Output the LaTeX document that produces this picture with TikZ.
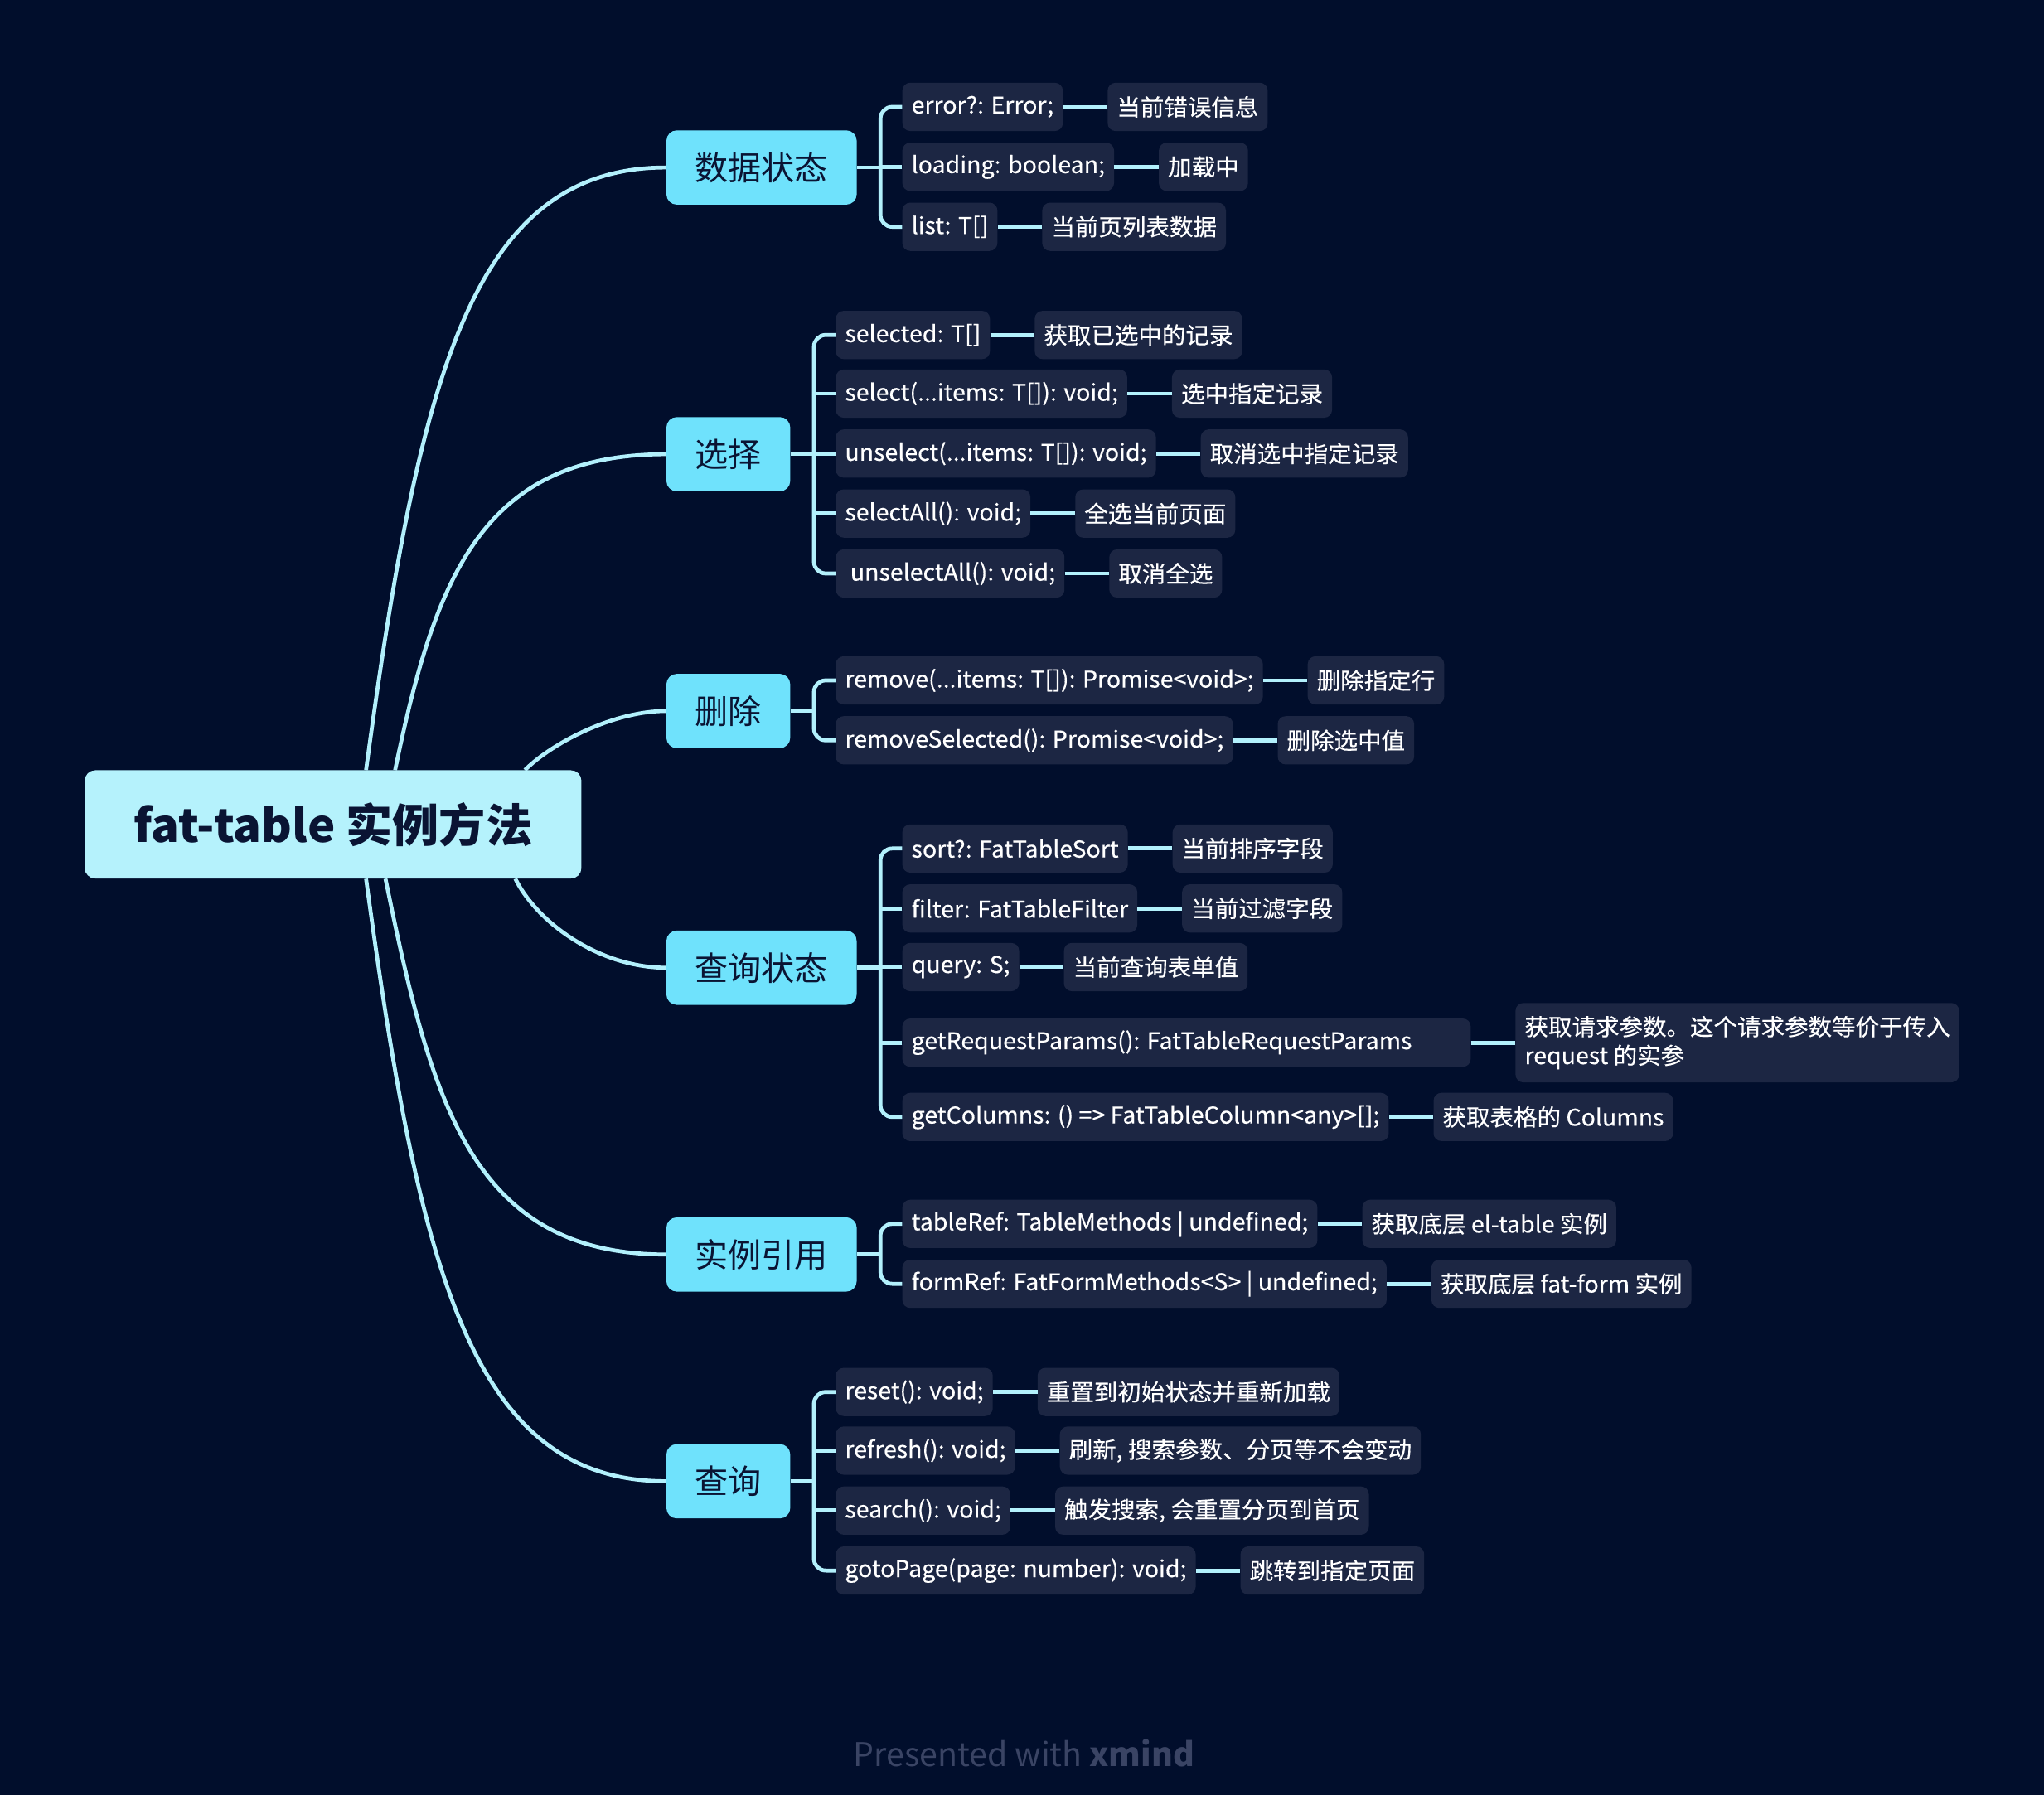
\documentclass[tikz,border=0pt]{standalone}
\usepackage{fontspec}
\setmainfont{Noto Sans CJK SC}
\newfontfamily\leaffont{Noto Sans CJK SC}[FakeStretch=1.03, FakeBold=0.4]
\newfontfamily\rootfont{Noto Sans CJK SC}[FakeStretch=1.02]
\usetikzlibrary{positioning}
\definecolor{bg}{HTML}{010E2C}
\definecolor{leafbg}{HTML}{1C2643}
\definecolor{wire}{HTML}{B2F0FC}
\definecolor{topicbg}{HTML}{6FE2FC}
\definecolor{rootbg}{HTML}{B5F2FC}
\definecolor{ink}{HTML}{0A1433}
\definecolor{foot}{HTML}{3A4464}
\tikzset{
    root/.style={fill=rootbg, text=ink, rounded corners=8pt, minimum width=381pt, minimum height=83pt, font=\rootfont\fontsize{35}{40}\selectfont\bfseries},
    topic/.style={fill=topicbg, text=ink, rounded corners=8pt, inner xsep=22pt, minimum height=57pt, anchor=west, font=\fontsize{25.5}{30}\selectfont},
    fld/.style={fill=leafbg, text=white, rounded corners=6pt, inner xsep=7pt, minimum height=37pt, align=left, font=\leaffont\fontsize{17.6}{22}\selectfont},
    link/.style={draw=wire, line width=3pt},
    brace/.style={link, rounded corners=9pt}
}
\newcommand{\leaf}[5]{%
    \node[fld, anchor=west] (#1) at (#2,#3) {#4};
    \node[fld, right=34pt of #1] (#1d) {#5};
    \draw[link] (#1) -- (#1d);
}

\begin{document}
\begin{tikzpicture}[x=1pt, y=-1pt]
    \fill[bg] (0,0) rectangle (1568,1377);
    \useasboundingbox (0,0) rectangle (1568,1377);

    \node[root] (root) at (255.5,632.5) {fat-table 实例方法};
    \node[topic] (sj) at (511,128.5) {数据状态};
    \node[topic] (xz) at (511,348.5) {选择};
    \node[topic] (sc) at (511,545.5) {删除};
    \node[topic] (cx) at (511,742.5) {查询状态};
    \node[topic] (yy) at (511,962.5) {实例引用};
    \node[topic] (q) at (511,1136.5) {查询};

    \draw[link] ([xshift=25.3pt]root.north) .. controls +(40.8,-300) and +(-150,0) .. (sj.west);
    \draw[link] ([xshift=47.6pt]root.north) .. controls +(31,-150) and +(-140,0) .. (xz.west);
    \draw[link] ([xshift=147.2pt]root.north) .. controls +(21,-21) and +(-40,0) .. (sc.west);
    \draw[link] ([xshift=139.8pt]root.south) .. controls +(17.5,35) and +(-50,0) .. (cx.west);
    \draw[link] ([xshift=40.2pt]root.south) .. controls +(34.9,170) and +(-150,0) .. (yy.west);
    \draw[link] ([xshift=25.3pt]root.south) .. controls +(40.8,300) and +(-150,0) .. (q.west);

    \leaf{sj1}{692}{82}{error?: Error;}{当前错误信息}
    \leaf{sj2}{692}{128}{loading: boolean;}{加载中}
    \leaf{sj3}{692}{174}{list: T[]}{当前页列表数据}
    \coordinate (sjb) at ([xshift=18pt]sj.east);
    \draw[link] (sj) -- (sjb);
    \draw[brace] (sj1.west) -- (sj1.west -| sjb) -- (sj3.west -| sjb) -- (sj3.west);
    \draw[link] (sj2.west) -- (sj2.west -| sjb);

    \leaf{xz1}{641}{257}{selected: T[]}{获取已选中的记录}
    \leaf{xz2}{641}{302}{select(...items: T[]): void;}{选中指定记录}
    \leaf{xz3}{641}{348}{unselect(...items: T[]): void;}{取消选中指定记录}
    \leaf{xz4}{641}{394}{selectAll(): void;}{全选当前页面}
    \leaf{xz5}{641}{440}{\ unselectAll(): void;}{取消全选}
    \coordinate (xzb) at ([xshift=18pt]xz.east);
    \draw[link] (xz) -- (xzb);
    \draw[brace] (xz1.west) -- (xz1.west -| xzb) -- (xz5.west -| xzb) -- (xz5.west);
    \draw[link] (xz2.west) -- (xz2.west -| xzb);
    \draw[link] (xz3.west) -- (xz3.west -| xzb);
    \draw[link] (xz4.west) -- (xz4.west -| xzb);

    \leaf{sc1}{641}{522}{remove(...items: T[]): Promise<void>;}{删除指定行}
    \leaf{sc2}{641}{568}{removeSelected(): Promise<void>;}{删除选中值}
    \coordinate (scb) at ([xshift=18pt]sc.east);
    \draw[link] (sc) -- (scb);
    \draw[brace] (sc1.west) -- (sc1.west -| scb) -- (sc2.west -| scb) -- (sc2.west);

    \leaf{cx1}{692}{651}{sort?: FatTableSort}{当前排序字段}
    \leaf{cx2}{692}{697}{filter: FatTableFilter}{当前过滤字段}
    \leaf{cx3}{692}{742}{query: S;}{当前查询表单值}
    \node[fld, anchor=west, text width=422pt, align=flush left] (cx4) at (692,800) {getRequestParams(): FatTableRequestParams};
    \node[fld, right=34pt of cx4, inner ysep=10pt] (cx4d) {获取请求参数。这个请求参数等价于传入\\request 的实参};
    \draw[link] (cx4) -- (cx4d);
    \leaf{cx5}{692}{857}{getColumns: () => FatTableColumn<any>[];}{获取表格的 Columns}
    \coordinate (cxb) at ([xshift=18pt]cx.east);
    \draw[link] (cx) -- (cxb);
    \draw[brace] (cx1.west) -- (cx1.west -| cxb) -- (cx5.west -| cxb) -- (cx5.west);
    \draw[link] (cx2.west) -- (cx2.west -| cxb);
    \draw[link] (cx3.west) -- (cx3.west -| cxb);
    \draw[link] (cx4.west) -- (cx4.west -| cxb);

    \leaf{yy1}{692}{939}{tableRef: TableMethods | undefined;}{获取底层 el-table 实例}
    \leaf{yy2}{692}{985}{formRef: FatFormMethods<S> | undefined;}{获取底层 fat-form 实例}
    \coordinate (yyb) at ([xshift=18pt]yy.east);
    \draw[link] (yy) -- (yyb);
    \draw[brace] (yy1.west) -- (yy1.west -| yyb) -- (yy2.west -| yyb) -- (yy2.west);

    \leaf{q1}{641}{1068}{reset(): void;}{重置到初始状态并重新加载}
    \leaf{q2}{641}{1113}{refresh(): void;}{刷新, 搜索参数、分页等不会变动}
    \leaf{q3}{641}{1159}{search(): void;}{触发搜索, 会重置分页到首页}
    \leaf{q4}{641}{1205}{gotoPage(page: number): void;}{跳转到指定页面}
    \coordinate (qb) at ([xshift=18pt]q.east);
    \draw[link] (q) -- (qb);
    \draw[brace] (q1.west) -- (q1.west -| qb) -- (q4.west -| qb) -- (q4.west);
    \draw[link] (q2.west) -- (q2.west -| qb);
    \draw[link] (q3.west) -- (q3.west -| qb);

    \node[text=foot, font=\fontsize{25}{30}\selectfont] (credit) at (785.5,1345) {Presented with \textbf{xmind}};
\end{tikzpicture}
\end{document}
